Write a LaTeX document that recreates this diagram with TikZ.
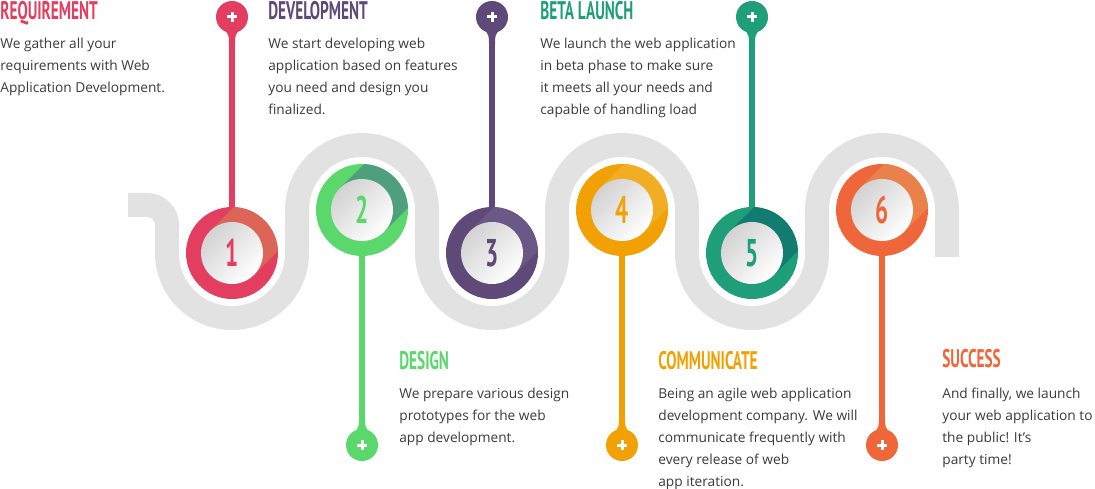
\documentclass[tikz,border=0pt]{standalone}
\usepackage{fontspec}
\setmainfont{Open Sans}
\newfontfamily\headfont[FakeStretch=0.6]{PT Sans Bold}
\definecolor{road}{HTML}{E1E2E1}
\definecolor{txt}{HTML}{3A3A3A}
\definecolor{cA}{HTML}{E33E5F}\definecolor{sA}{HTML}{DB6657}
\definecolor{cB}{HTML}{5AD86C}\definecolor{sB}{HTML}{4E9F7E}
\definecolor{cC}{HTML}{5F4978}\definecolor{sC}{HTML}{6C5886}
\definecolor{cD}{HTML}{F2A105}\definecolor{sD}{HTML}{F1AE22}
\definecolor{cE}{HTML}{1F9F79}\definecolor{sE}{HTML}{137C70}
\definecolor{cF}{HTML}{F0663B}\definecolor{sF}{HTML}{E8824A}
\tikzset{
  ring/.style={circle, fill=#1, minimum size=1.84cm, inner sep=0},
  pin/.style={circle, fill=#1, minimum size=0.64cm, inner sep=0},
  stem/.style={line width=0.12cm, #1},
  title/.style={anchor=north west, inner sep=0, font=\headfont\fontsize{14.5}{15}\selectfont, text=#1},
  body/.style={anchor=north west, inner sep=0, align=left, text=txt, font=\fontsize{7.8}{12.5}\selectfont},
}
\begin{document}
\begin{tikzpicture}[x=0.02cm, y=0.02cm]
  \useasboundingbox (0,0) rectangle (1095,-489);
  % road
  \draw[road, line width=0.48cm] (128,-205) -- (147,-205) arc[start angle=90, end angle=0, radius=20]
    -- (167,-253) arc[start angle=180, end angle=360, radius=65]
    -- (297,-210) arc[start angle=180, end angle=0, radius=65]
    -- (427,-253) arc[start angle=180, end angle=360, radius=65]
    -- (557,-210) arc[start angle=180, end angle=0, radius=65]
    -- (687,-253) arc[start angle=180, end angle=360, radius=65]
    -- (817,-210) arc[start angle=180, end angle=0, radius=65]
    -- (947,-257);
  % steps
  \foreach \i/\x/\y/\py/\d/\c/\s in {1/232/-253/-17/1/cA/sA, 2/362/-210/-445/-1/cB/sB,
      3/492/-253/-17/1/cC/sC, 4/622/-210/-445/-1/cD/sD,
      5/752/-253/-17/1/cE/sE, 6/882/-210/-445/-1/cF/sF} {
    \node[pin=\c] (p\i) at (\x,\py) {};
    \draw[stem=\c] (p\i) -- (\x,\y);
    \fill[\c] (\x-9,\py-\d*11) .. controls (\x-3,\py-\d*18) .. (\x-3,\py-\d*28)
      -- (\x+3,\py-\d*28) .. controls (\x+3,\py-\d*18) .. (\x+9,\py-\d*11) -- cycle;
    \draw[white, line width=0.06cm] (\x-5,\py) -- (\x+5,\py) (\x,\py-5) -- (\x,\py+5);
    \node[ring=\c] (c\i) at (\x,\y) {};
    \begin{scope}
      \clip (\x,\y) circle[radius=46];
      \fill[\s, rotate around={45:(\x,\y)}] (\x,\y-31) rectangle (\x+60,\y+31);
    \end{scope}
    \shade[shading=axis, top color=gray!35, bottom color=white, shading angle=45]
      (\x,\y) circle[radius=31];
    \node[text=\c, font=\headfont\fontsize{22}{22}\selectfont] (n\i) at (\x,\y) {\i};
  }
  % texts
  \node[title=cA] (t1) at (0,-1) {REQUIREMENT};
  \node[body] (b1) at (0,-38) {We gather all your\\requirements with Web\\Application Development.};
  \node[title=cC] (t2) at (268,-1) {DEVELOPMENT};
  \node[body] (b2) at (268,-38) {We start developing web\\application based on features\\you need and design you\\finalized.};
  \node[title=cE] (t3) at (540,-1) {BETA LAUNCH};
  \node[body] (b3) at (540,-38) {We launch the web application\\in beta phase to make sure\\it meets all your needs and\\capable of handling load};
  \node[title=cB] (t4) at (399,-351) {DESIGN};
  \node[body] (b4) at (399,-388) {We prepare various design\\prototypes for the web\\app development.};
  \node[title=cD] (t5) at (658,-351) {COMMUNICATE};
  \node[body] (b5) at (658,-388) {Being an agile web application\\development company. We will\\communicate frequently with\\every release of web\\app iteration.};
  \node[title=cF] (t6) at (942,-349) {SUCCESS};
  \node[body] (b6) at (942,-388) {And finally, we launch\\your web application to\\the public! It’s\\party time!};
\end{tikzpicture}
\end{document}
